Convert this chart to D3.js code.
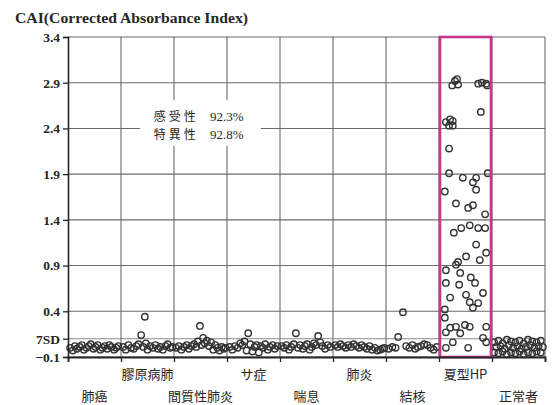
<!DOCTYPE html>
<html><head><meta charset="utf-8">
<script src="https://cdn.jsdelivr.net/npm/d3@7/dist/d3.min.js"></script>
<style>body{margin:0;background:#fff}
.serif{font-family:"Liberation Serif","DejaVu Serif","Times New Roman",serif;}
.cjk{font-family:"Noto Sans CJK JP","Noto Sans CJK SC",sans-serif;}
</style>
</head><body><svg id="c" width="555" height="405"></svg>
<script>
// ---------- data ----------
const title = "CAI(Corrected Absorbance Index)";
const categories = ["肺癌","膠原病肺","間質性肺炎","サ症","喘息","肺炎","結核","夏型HP","正常者"];
const labelRow = [1,0,1,0,1,0,1,0,1]; // 0 = upper row, 1 = lower row
const yTickValues = [-0.1, 0.1, 0.4, 0.9, 1.4, 1.9, 2.4, 2.9, 3.4];
const yTickLabels = ["−0.1","7SD","0.4","0.9","1.4","1.9","2.4","2.9","3.4"];
const cutoffValue = 0.1;
const highlightCategory = 7;
const annotationLines = [["感受性","92.3%"],["特異性","92.8%"]];

// position of each point inside its category band (0..1) and its CAI value
const xOffsets = [
  [0.04,0.09,0.13,0.17,0.22,0.26,0.30,0.35,0.39,0.43,0.48,0.52,0.56,0.61,0.65,0.69,0.74,0.78,0.82,0.87,0.91,0.95],
  [0.04,0.09,0.14,0.19,0.24,0.29,0.33,0.38,0.45,0.42,0.50,0.55,0.60,0.65,0.70,0.74,0.79,0.84,0.88,0.93,0.97,0.47],
  [0.04,0.09,0.14,0.19,0.24,0.28,0.33,0.38,0.42,0.45,0.49,0.52,0.55,0.58,0.62,0.66,0.70,0.74,0.78,0.82,0.86,0.90,0.94,0.97],
  [0.05,0.10,0.15,0.20,0.25,0.29,0.33,0.37,0.40,0.44,0.48,0.52,0.56,0.60,0.64,0.68,0.72,0.77,0.81,0.86,0.90,0.95],
  [0.03,0.08,0.12,0.17,0.21,0.26,0.30,0.34,0.38,0.43,0.47,0.51,0.56,0.60,0.64,0.68,0.72,0.76,0.80,0.85,0.90,0.95],
  [0.04,0.09,0.14,0.19,0.24,0.29,0.34,0.39,0.44,0.49,0.54,0.59,0.64,0.69,0.74,0.79,0.84,0.89,0.93,0.97],
  [0.05,0.12,0.18,0.23,0.32,0.38,0.44,0.50,0.55,0.60,0.66,0.72,0.78,0.84,0.90,0.96],
  [0.25,0.30,0.36,0.34,0.74,0.81,0.89,0.91,0.79,0.13,0.21,0.26,0.19,0.26,0.19,
   0.19,0.45,0.70,0.92,0.64,0.70,0.11,0.32,0.55,0.64,0.87,0.28,0.42,0.58,0.74,0.87,
   0.70,0.51,0.77,0.89,0.36,0.32,0.13,0.40,0.13,0.38,0.60,0.68,0.51,0.58,0.64,0.74,
   0.83,0.21,0.11,0.11,0.13,0.21,0.32,0.40,0.49,0.58,0.89,0.83,0.89,0.55,0.13,0.26],
  [0.04,0.12,0.20,0.28,0.36,0.44,0.52,0.60,0.68,0.76,0.84,0.92,
   0.08,0.16,0.24,0.32,0.40,0.48,0.56,0.64,0.72,0.80,0.88,0.96,
   0.04,0.12,0.20,0.28,0.36,0.44,0.52,0.60,0.68,0.76,0.84,0.92]
];
const values = [
  [0.00,-0.03,0.02,-0.01,0.01,0.03,-0.02,0.00,0.02,0.04,-0.01,0.01,0.03,-0.02,0.00,0.02,-0.01,0.03,0.01,-0.02,0.00,0.02],
  [0.01,-0.02,0.03,0.00,-0.01,0.02,0.04,0.14,0.34,0.01,-0.02,0.02,0.00,0.03,-0.01,0.01,-0.02,0.02,0.04,0.00,0.01,0.05],
  [0.00,0.02,-0.02,0.01,0.03,-0.01,0.02,0.04,0.01,0.07,0.24,0.03,0.11,0.05,0.08,0.02,0.06,-0.02,0.03,0.00,-0.03,0.01,-0.01,0.00],
  [0.01,-0.02,0.02,0.00,0.05,0.03,0.07,-0.03,0.16,0.04,-0.04,0.01,0.03,-0.05,0.02,0.00,0.04,-0.02,0.01,0.03,-0.01,0.02],
  [0.02,0.00,0.03,-0.02,0.01,0.04,0.16,0.00,0.03,-0.01,0.02,0.04,-0.02,0.01,0.05,0.03,0.13,0.06,0.02,-0.01,0.03,0.01],
  [0.03,0.01,0.04,0.02,0.00,0.03,0.01,0.04,0.02,0.00,0.03,0.01,-0.01,0.02,-0.02,0.00,-0.03,-0.02,-0.01,0.00],
  [-0.01,0.01,0.00,0.12,0.39,0.02,0.00,0.03,-0.01,0.01,0.02,0.04,0.03,0.00,-0.02,0.01],
  [2.87,2.92,2.88,2.94,2.89,2.90,2.89,2.87,2.58,2.47,2.50,2.48,2.43,2.43,2.18,
   1.91,1.86,1.86,1.91,1.81,1.73,1.71,1.58,1.53,1.56,1.46,1.26,1.31,1.34,1.31,1.31,
   1.13,1.00,0.96,1.04,0.94,0.91,0.85,0.82,0.71,0.69,0.77,0.71,0.58,0.50,0.44,0.49,
   0.60,0.55,0.42,0.33,0.17,0.22,0.23,0.16,0.25,0.23,0.23,0.11,0.06,0.00,0.00,0.06],
  [0.06,0.08,0.05,0.09,0.07,0.06,0.08,0.05,0.09,0.07,0.06,0.08,
   0.01,0.02,-0.01,0.03,0.00,0.02,-0.01,0.01,0.03,0.00,0.02,0.01,
   -0.05,-0.06,-0.04,-0.07,-0.05,-0.06,-0.04,-0.07,-0.05,-0.06,-0.04,-0.05]
];

// ---------- chart ----------
const svg = d3.select("#c");
const L = 68, R = 545, T = 37, B = 357;
const x = d3.scaleLinear().domain([0, categories.length]).range([L, R]);
const y = d3.scaleLinear().domain([-0.1, 3.4]).range([B, T]);
const ink = "#262626";

// title
svg.append("text").attr("class", "serif").attr("x", 15).attr("y", 23).text(title)
  .style("font-weight", "bold").style("font-size", "14px")
  .attr("textLength", 233).attr("lengthAdjust", "spacingAndGlyphs").attr("fill", ink);

// horizontal grid
const grid = svg.append("g");
grid.selectAll("line.h").data(yTickValues.filter(v => v !== cutoffValue)).join("line")
  .attr("x1", L).attr("x2", R).attr("y1", d => y(d)).attr("y2", d => y(d))
  .attr("stroke", "#6a6a6a").attr("stroke-width", 1.1);
// 7SD cut-off line
grid.append("line").attr("x1", L).attr("x2", R).attr("y1", y(cutoffValue)).attr("y2", y(cutoffValue))
  .attr("stroke", "#8a8a8a").attr("stroke-width", 1.1);
// vertical grid
grid.selectAll("line.v").data(d3.range(1, categories.length + 1)).join("line")
  .attr("x1", d => x(d)).attr("x2", d => x(d)).attr("y1", T).attr("y2", B)
  .attr("stroke", "#6a6a6a").attr("stroke-width", 1.1);

// annotation box
const ann = svg.append("g");
ann.append("rect").attr("x", x(1.36)).attr("y", y(2.71)).attr("width", x(3.64) - x(1.36))
  .attr("height", y(2.21) - y(2.71)).attr("fill", "#fff");
annotationLines.forEach((ln, i) => {
  const yy = y(2.48) + i * 18;
  ann.append("text").attr("class", "cjk").attr("x", x(1.62)).attr("y", yy).text(ln[0])
    .style("font-size", "12px").attr("textLength", 42).attr("fill", ink);
  ann.append("text").attr("class", "serif").attr("x", x(2.68)).attr("y", yy).text(ln[1])
    .style("font-size", "13px").attr("fill", ink);
});

// points
const pts = [];
values.forEach((arr, ci) => arr.forEach((v, j) => pts.push({ c: ci, o: xOffsets[ci][j], v })));
svg.append("g").selectAll("circle").data(pts).join("circle")
  .attr("cx", d => x(d.c + d.o)).attr("cy", d => y(d.v)).attr("r", 3.2)
  .attr("fill", "none").attr("stroke", "#333").attr("stroke-width", 1.4);

// highlight box
svg.append("rect").attr("x", x(highlightCategory) + 1).attr("y", T)
  .attr("width", x(highlightCategory + 1) - x(highlightCategory) - 2).attr("height", B - T)
  .attr("fill", "none").attr("stroke", "#c8378c").attr("stroke-width", 2.6);

// axes
const yAxis = d3.axisLeft(y).tickValues(yTickValues).tickSize(5).tickPadding(3)
  .tickFormat((d, i) => yTickLabels[i]);
const gy = svg.append("g").attr("transform", `translate(${L},0)`).call(yAxis);
gy.attr("font-family", null);
gy.select(".domain").attr("stroke", ink).attr("stroke-width", 1.6);
gy.selectAll(".tick line").attr("stroke", ink).attr("stroke-width", 1.3);
gy.selectAll(".tick text").attr("class", "serif").style("font-weight", "bold")
  .style("font-size", "13.5px").attr("fill", ink);

const xAxis = d3.axisBottom(x).tickValues(d3.range(0, categories.length + 1)).tickSize(5).tickFormat("");
const gx = svg.append("g").attr("transform", `translate(0,${B})`).call(xAxis);
gx.select(".domain").attr("stroke", ink).attr("stroke-width", 1.8);
gx.selectAll(".tick line").attr("stroke", ink).attr("stroke-width", 1.3);

// category labels
svg.append("g").selectAll("text").data(categories).join("text").attr("class", "cjk")
  .attr("x", (d, i) => x(i + 0.5)).attr("y", (d, i) => labelRow[i] === 0 ? 379 : 401)
  .attr("text-anchor", "middle").text(d => d)
  .style("font-size", "13px").attr("fill", ink);
</script></body></html>
